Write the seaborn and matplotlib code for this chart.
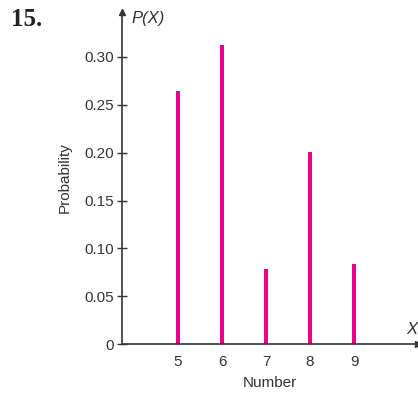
import matplotlib
matplotlib.use("Agg")
import matplotlib.pyplot as plt
import seaborn as sns
import pandas as pd

numbers = [5, 6, 7, 8, 9]
probabilities = [0.264, 0.313, 0.078, 0.201, 0.084]
y_ticks = [0, 0.05, 0.10, 0.15, 0.20, 0.25, 0.30]
y_tick_labels = ["0", "0.05", "0.10", "0.15", "0.20", "0.25", "0.30"]

sns.set_style("white")
plt.rcParams["font.family"] = ["Liberation Sans", "DejaVu Sans"]

df = pd.DataFrame({"Number": numbers, "Probability": probabilities})

W, H = 418, 393
fig = plt.figure(figsize=(W / 100, H / 100), dpi=100)
x0, x1 = 122, 418
y0, y1 = 344, 12
ax = fig.add_axes([x0 / W, 1 - y0 / H, (x1 - x0) / W, (y0 - y1) / H])

sns.barplot(data=df, x="Number", y="Probability", native_scale=True,
            color="#EC008C", width=0.1, saturation=1, ax=ax, edgecolor="none")

ppu = 44.0
ax.set_xlim(5 - (178 - x0) / ppu, 5 + (x1 - 178) / ppu)
ax.set_ylim(0, 0.30 * (y0 - y1) / (344 - 57))

ax.set_yticks(y_ticks)
ax.set_yticklabels(y_tick_labels)
ax.set_xticks(numbers)
ax.set_xticklabels([str(n) for n in numbers])
ax.tick_params(axis="y", direction="inout", length=7, width=1, color="#333333",
               labelsize=11, labelcolor="#333333", pad=2, left=True)
ax.tick_params(axis="x", length=0, labelsize=11, labelcolor="#333333", pad=8)

for s in ["top", "right"]:
    ax.spines[s].set_visible(False)
for s in ["left", "bottom"]:
    ax.spines[s].set_color("#333333")
    ax.spines[s].set_linewidth(1.2)

ax.set_xlabel("Number", fontsize=11, color="#333333", labelpad=5)
ax.set_ylabel("Probability", fontsize=11, color="#333333", labelpad=9)

# arrow heads
ax.plot(1, 0, ">", color="#333333", markersize=4, transform=ax.transAxes, clip_on=False)
ax.plot(0, 1, "^", color="#333333", markersize=4, transform=ax.transAxes, clip_on=False)

fig.text(131 / W, 1 - 19 / H, "P(X)", fontsize=12, color="#333333", va="center", ha="left",
         style="italic")
fig.text(406 / W, 1 - 330 / H, "X", fontsize=12, color="#333333", va="center", ha="left",
         style="italic")
fig.text(11 / W, 1 - 19 / H, "15.", fontsize=18, fontweight="bold", family="Liberation Serif",
         color="#222222", va="center", ha="left")

fig.savefig("out.png", dpi=100, facecolor="white")
